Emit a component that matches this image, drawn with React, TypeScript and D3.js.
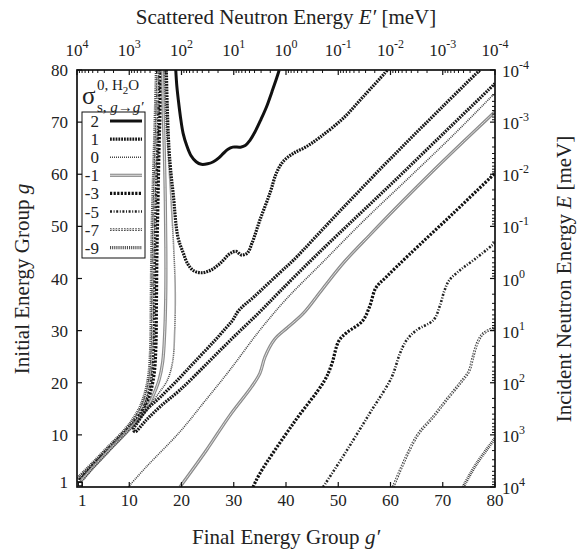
import React from 'react';
import * as d3 from 'd3';

const W = 586, H = 553;
const L = 77, R = 495, T = 70, B = 487;

const groupTicks = [1, 10, 20, 30, 40, 50, 60, 70, 80];
const topExponents = [4, 3, 2, 1, 0, -1, -2, -3, -4];
const rightExponents = [-4, -3, -2, -1, 0, 1, 2, 3, 4];
const legendLevels = ["2", "1", "0", "-1", "-3", "-5", "-7", "-9"];

// contour lines, points as [g', g]
const contour2 = [[18.9,80],[19.1,77],[19.4,74.2],[19.8,71],[20.3,67.9],[21.0,65.5],[21.8,63.6],[22.8,62.4],[23.8,61.9],[25,62],[26.1,62.4],[27.2,63.2],[28.0,64.0],[28.9,64.8],[29.8,65.2],[31.3,65.2],[32.2,65.5],[33.1,66.5],[34,68],[35.2,70.5],[36.3,73.0],[37.3,75.8],[38.2,78.4],[38.7,80]];
const contour2Corner = [[0.25,0.2],[1.0,0.2],[1.0,0.9],[0.25,0.9],[0.25,0.2]];
const contour1Up = [[17.1,80],[17.3,72],[17.6,65],[18.0,60],[18.4,56.4],[19.3,48],[20.3,45],[21.2,42.8],[22.3,41.5],[23.8,41.1],[25.6,41.6],[27.4,42.9],[29.3,44.8],[30.4,45.2],[31.5,44.5],[32.6,44.9],[33.5,46.8],[35.0,51.2],[36.9,56.3],[38.2,60.3],[39.5,62.5],[41.4,64.0],[43.9,65.3],[46.5,67.1],[50.9,70.7],[54.8,74.9],[58.9,79.4],[59.4,80]];
const contour1Diag = [[77.1,80],[70,73],[60,63],[50,52.6],[41.4,43.5],[38.8,41.1],[34,36.6],[30.9,33.8],[29.8,32],[28.5,30.5],[26.1,27.8],[22.5,24],[19.7,21.0],[16,17.3],[13.3,14.8],[11.6,12.4],[10.8,11],[11.1,10.6],[13.3,12.9],[16,15.5],[19.7,18.6],[25,23.8],[30,28.8],[35,33.6],[38.8,37.5],[44.6,43.3],[50,48.5],[60,58],[70,67.7],[80,77.4]];
const contour0Up = [[1,1.1],[3,3.5],[6,6.7],[9,9.9],[11.4,12.4],[13.3,14.8],[15.5,17.8],[17.3,20.5],[18.3,24],[18.7,30],[18.8,38],[18.5,46],[18.0,55],[17.5,63],[17.0,71],[16.7,80]];
const contour0Down = [[9.8,0],[13.3,3.9],[19.7,10.6],[24.5,16.5],[29.3,22.5],[35,30.1],[40,36],[47.1,43.2],[55,51.2],[63.7,59.5],[72,67.5],[80,75.6]];
const contourM1Up = [[0.8,1.2],[3,3.7],[6,6.9],[9,10],[11.6,12.8],[13.3,15],[14.6,17.6],[15.7,20.5],[16.4,24],[16.8,30],[17.0,38],[17.0,46],[16.9,55],[16.7,65],[16.5,72],[16.4,80]];
const contourM1Down = [[19.7,0],[24.8,7.1],[29.3,13.8],[33.4,19.2],[35,21.8],[36,25],[37.8,28.3],[40.3,30.6],[43.3,33.3],[47,38],[51,43],[56,48.3],[62,54.5],[68,60.5],[74,66.3],[80,72]];
const contourM3Up = [[0.6,1.3],[3,4.0],[6,7.1],[9,10.2],[11.4,12.8],[13.1,15.3],[14.1,18.3],[14.8,22],[15.1,27],[15.2,35],[15.3,45],[15.5,55],[15.7,65],[15.9,72],[16.1,80]];
const contourM3Down = [[33.7,0],[35,2.6],[41.4,12.2],[47.3,20.3],[48.7,23.4],[50.1,28],[51.6,29.6],[54.6,31.8],[56,34.6],[57.2,38.2],[59.2,40.3],[63.5,44.5],[72,52.5],[80,60.2]];
const contourM5Up = [[0.4,1.4],[3,4.2],[6,7.3],[9,10.4],[11.2,12.9],[12.8,15.4],[13.8,18.4],[14.4,22],[14.7,27],[14.8,35],[14.9,45],[15.1,55],[15.4,65],[15.6,72],[15.8,80]];
const contourM5Down = [[47.1,0],[51,6],[56,14.1],[60.2,21],[61.8,25.6],[63.1,28.2],[65,30.1],[68.2,32.0],[69.4,34.6],[70.3,37.6],[71.2,39.6],[73.3,41.6],[76,43.6],[80,46.8]];
const contourM7Up = [[0.2,1.5],[3,4.4],[6,7.5],[9,10.6],[11,13],[12.5,15.5],[13.5,18.5],[14.1,22],[14.4,27],[14.5,35],[14.6,45],[14.8,55],[15.1,65],[15.3,72],[15.5,80]];
const contourM7Down = [[60.5,0],[65,9.7],[68.2,13.5],[70.7,16.7],[73.3,19.9],[75.0,22.2],[75.8,25],[76.6,27.6],[77.7,29.4],[80,30.6]];
const contourM9Up = [[0.1,1.7],[3,4.6],[6,7.7],[9,10.8],[10.8,13.1],[12.2,15.6],[13.2,18.6],[13.8,22],[14.1,27],[14.2,35],[14.3,45],[14.5,55],[14.8,65],[15.0,72],[15.2,80]];
const contourM9Down = [[73.9,0],[76.5,4.5],[80,9.3]];

type Stroke = { stroke: string; w: number; dash?: string };
const styles: Record<string, Stroke[]> = {
  "2": [{ stroke: "#111", w: 3 }],
  "1": [{ stroke: "#161616", w: 3.2, dash: "1.8 1" }],
  "0": [{ stroke: "#444", w: 1.6, dash: "1 1" }],
  "-1": [{ stroke: "#8c8c8c", w: 3.2 }, { stroke: "#dedede", w: 1 }],
  "-3": [{ stroke: "#111", w: 3.2, dash: "2.2 1.4" }],
  "-5": [{ stroke: "#222", w: 2.6, dash: "2 1.6 1 1.6" }],
  "-7": [{ stroke: "#444", w: 2.8, dash: "1.6 1.2" }, { stroke: "#fff", w: 0.8, dash: "1.6 1.2" }],
  "-9": [{ stroke: "#3a3a3a", w: 3.2, dash: "0.9 1" }],
};

const contours: { level: string; pts: number[][] }[] = [
  { level: "-9", pts: contourM9Up }, { level: "-9", pts: contourM9Down },
  { level: "-7", pts: contourM7Up }, { level: "-7", pts: contourM7Down },
  { level: "-5", pts: contourM5Up }, { level: "-5", pts: contourM5Down },
  { level: "-3", pts: contourM3Up }, { level: "-3", pts: contourM3Down },
  { level: "-1", pts: contourM1Up }, { level: "-1", pts: contourM1Down },
  { level: "0", pts: contour0Up }, { level: "0", pts: contour0Down },
  { level: "1", pts: contour1Up }, { level: "1", pts: contour1Diag },
  { level: "2", pts: contour2 },
];

const FONT = "Liberation Serif, Times New Roman, Times, serif";
const TICK = 17;
const TITLE = 21;

export default function App() {
  const x = d3.scaleLinear().domain([0, 80]).range([L, R]);
  const y = d3.scaleLinear().domain([0, 80]).range([B, T]);
  const xTop = d3.scaleLog().domain([1e4, 1e-4]).range([L, R]);
  const yRight = d3.scaleLog().domain([1e-4, 1e4]).range([T, B]);
  const line = d3.line<number[]>().x(d => x(d[0])).y(d => y(d[1])).curve(d3.curveCatmullRom.alpha(0.5));
  const lineLin = d3.line<number[]>().x(d => x(d[0])).y(d => y(d[1]));

  const minor: number[] = [];
  for (let k = -4; k < 4; k++) {
    for (let m = 2; m <= 9; m++) minor.push(m * Math.pow(10, k));
  }

  const legendY0 = 121, legendDy = 18.1;

  return (
    <svg width={W} height={H} style={{ display: 'block', position: 'absolute', left: 0, top: 0, background: '#fff', fontFamily: FONT }}>
      <rect x={0} y={0} width={W} height={H} fill="#fff" />
      <defs>
        <clipPath id="plotclip"><rect x={L} y={T} width={R - L} height={B - T} /></clipPath>
      </defs>
      <g clipPath="url(#plotclip)" fill="none">
        {contours.map((c, i) => styles[c.level].map((s, j) => (
          <path key={i + '-' + j} d={line(c.pts) || ''} stroke={s.stroke} strokeWidth={s.w} strokeDasharray={s.dash} />
        )))}
        <path d={lineLin(contour2Corner) || ''} stroke="#111" strokeWidth={1.3} />
      </g>
      <rect x={L} y={T} width={R - L} height={B - T} fill="none" stroke="#111" strokeWidth={1.7} />
      {groupTicks.map(v => (
        <g key={'gt' + v}>
          <line x1={x(v)} x2={x(v)} y1={B} y2={B - 5} stroke="#111" strokeWidth={1.2} />
          <line x1={L} x2={L + 5} y1={y(v)} y2={y(v)} stroke="#111" strokeWidth={1.2} />
          <text x={x(v)} y={506} fontSize={TICK} textAnchor="middle" fill="#222">{v}</text>
          <text x={68} y={y(v) + 6} fontSize={TICK} textAnchor="end" fill="#222">{v}</text>
        </g>
      ))}
      {topExponents.map(k => (
        <g key={'tx' + k}>
          <line x1={xTop(Math.pow(10, k))} x2={xTop(Math.pow(10, k))} y1={T} y2={T + 5} stroke="#111" strokeWidth={1.2} />
          <text x={xTop(Math.pow(10, k))} y={56} fontSize={TICK} textAnchor="middle" fill="#222">10<tspan dy={-8} fontSize={12}>{k}</tspan></text>
        </g>
      ))}
      {minor.map((v, i) => (
        <line key={'tm' + i} x1={xTop(v)} x2={xTop(v)} y1={T} y2={T + 3} stroke="#111" strokeWidth={1} />
      ))}
      {rightExponents.map(k => (
        <g key={'ry' + k}>
          <line x1={R} x2={R - 5} y1={yRight(Math.pow(10, k))} y2={yRight(Math.pow(10, k))} stroke="#111" strokeWidth={1.2} />
          <text x={502} y={yRight(Math.pow(10, k)) + 7} fontSize={TICK} textAnchor="start" fill="#222">10<tspan dy={-8} fontSize={12}>{k}</tspan></text>
        </g>
      ))}
      {minor.map((v, i) => (
        <line key={'rm' + i} x1={R} x2={R - 3} y1={yRight(v)} y2={yRight(v)} stroke="#111" strokeWidth={1} />
      ))}
      <text x={286} y={24} fontSize={TITLE} textAnchor="middle" fill="#222">Scattered Neutron Energy <tspan fontStyle="italic">E′</tspan> [meV]</text>
      <text x={286} y={544} fontSize={TITLE} textAnchor="middle" fill="#222">Final Energy Group <tspan fontStyle="italic">g′</tspan></text>
      <text transform={`translate(29,279) rotate(-90)`} fontSize={TITLE} textAnchor="middle" fill="#222">Initial Energy Group <tspan fontStyle="italic">g</tspan></text>
      <text transform={`translate(571,279) rotate(-90)`} fontSize={TITLE} textAnchor="middle" fill="#222">Incident Neutron Energy <tspan fontStyle="italic">E</tspan> [meV]</text>
      <rect x={82} y={112} width={63} height={146} fill="#fff" stroke="#111" strokeWidth={1} />
      <text x={82} y={104} fontSize={25} fill="#222">σ</text>
      <text x={97} y={90} fontSize={15} fill="#222">0, H<tspan fontSize={11} dy={4}>2</tspan><tspan dy={-4}>O</tspan></text>
      <text x={97} y={112} fontSize={15} fill="#222">s, <tspan fontStyle="italic">g</tspan>→<tspan fontStyle="italic">g′</tspan></text>
      {legendLevels.map((lv, i) => (
        <g key={'lg' + lv}>
          <text x={99} y={legendY0 + i * legendDy + 6} fontSize={TICK} textAnchor="end" fill="#222">{lv}</text>
          {styles[lv].map((s, j) => (
            <line key={j} x1={110} x2={142} y1={legendY0 + i * legendDy} y2={legendY0 + i * legendDy} stroke={s.stroke} strokeWidth={s.w} strokeDasharray={s.dash} />
          ))}
        </g>
      ))}
    </svg>
  );
}
